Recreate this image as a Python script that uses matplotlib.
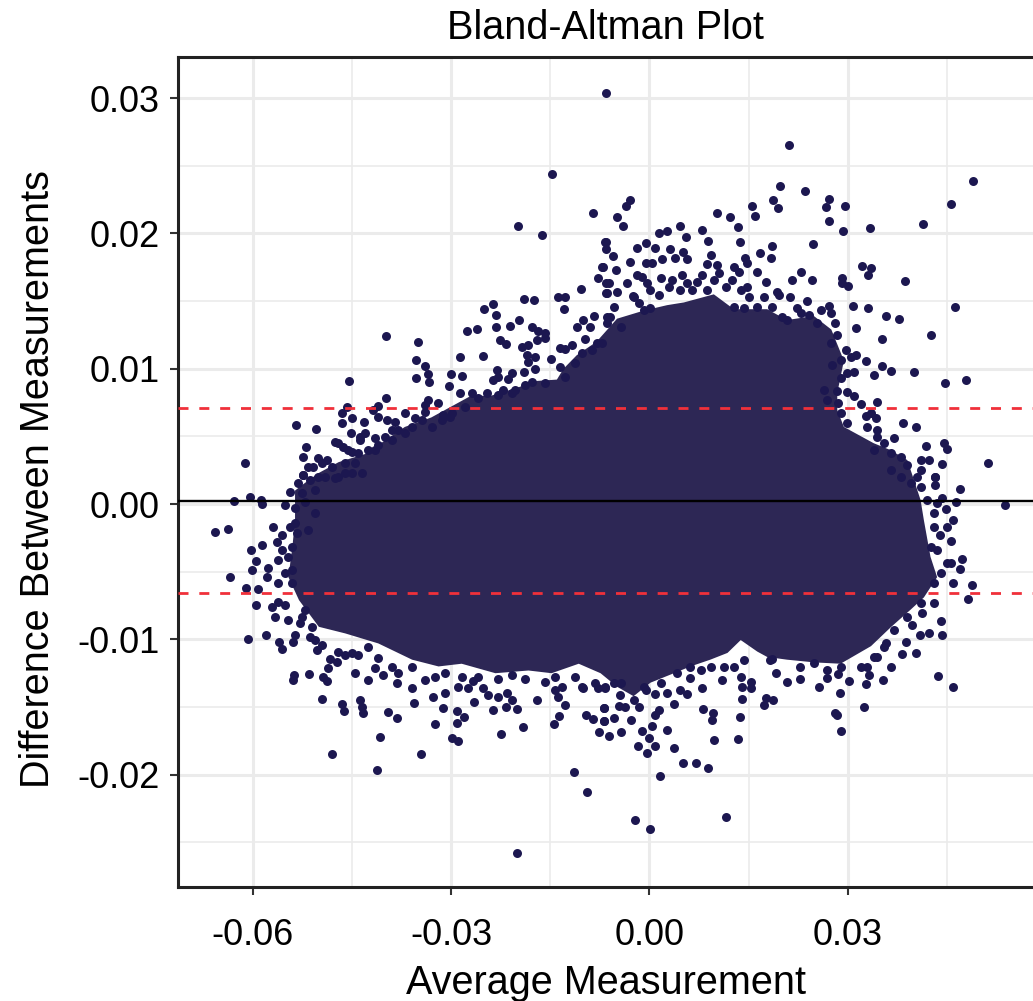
import matplotlib
matplotlib.use('Agg')
import matplotlib.pyplot as plt
import numpy as np

plt.rcParams['font.family'] = ['Liberation Sans', 'DejaVu Sans']

# all values, in thousandths
upper_left = [(-6.55,30.36),(-14.67,24.39),(-8.57,21.53),(-19.86,20.57),(-16.23,19.88),(-6.70,19.39),(-6.50,18.82),
  (-7.11,17.49),(-7.81,16.73),(-6.55,16.31),(-6.50,15.57),(-10.38,15.89),(-13.76,15.28),(-12.75,15.28),(-19.0,15.15),
  (-17.39,15.10),(-13.00,14.41),(-23.59,14.81),(-25.0,14.41),(-23.19,13.97),(-19.76,13.60),(-23.19,13.08),(-21.07,13.18),
  (-27.63,12.81),(-26.01,12.96),(-17.8,13.11),(-16.79,12.81),(-15.78,12.62),(-15.78,12.25),(-17.04,12.12),(-18.3,11.75),
  (-19.3,11.58),(-22.6,12.12),(-21.68,11.8),(-10.99,13.1),(-9.98,13.6),(-8.97,13.11),(-8.32,13.9),(-6.45,13.8),
  (-9.73,12.17),(-11.74,11.75),(-13.51,11.5),(-12.75,11.43),(-7.96,11.88),(-14.92,10.69),(-13.51,10.15),(-18.55,11.01),
  (-17.29,10.84),(-18.3,10.52),(-17.29,9.95),(-19.05,9.78),(-25.21,10.96),(-28.64,10.84),(-34.94,11.98),(-39.83,12.44),
  (-35.24,10.64),(-33.88,10.2),(-33.43,9.58),(-35.29,9.29),(-33.27,9.0),(-30.05,9.58),(-28.38,9.46),(-30.25,8.72),
  (-45.38,9.07),(-23.09,9.9),(-22.84,9.41),(-23.69,9.17),(-20.82,9.66),(-21.32,9.24),(-28.64,8.23),(-26.87,8.18),
  (-24.6,8.23),(-22.08,8.43),(-20.32,8.43),(-39.83,7.86),(-33.43,7.69),(-31.91,7.44),(-33.93,7.32),(-45.78,7.2),
  (-40.99,7.24),(-41.74,6.95),(-46.53,6.7),(-45.02,6.33),(-46.53,5.96),(-43.1,6.04),(-40.99,6.46),(-39.73,6.21),
  (-38.47,6.09),(-36.95,6.7),(-33.93,6.82),(-31.16,6.58),(-35.44,6.33),(-53.49,5.86),(-50.42,5.54),(-45.17,5.22),
  (-43.0,5.22),(-38.97,5.47),(-47.54,4.61),(-46.28,4.24),(-43.76,4.73),(-51.98,4.19),(-52.33,3.5),(-61.2,3.0),
  (-50.06,3.38),(-48.8,3.25),(-50.82,2.76),(-52.33,2.14),(-46.03,3.0),(-45.02,3.87)]

upper_right = [(21.03,26.51),(48.86,23.88),(19.67,23.51),(23.5,23.11),(45.63,22.15),(-2.87,22.47),(-3.48,22.03),
  (-4.89,21.19),(-3.98,20.57),(18.71,22.47),(19.51,21.88),(27.18,22.52),(26.77,21.98),(29.6,22.05),(15.53,22.05),
  (15.93,21.31),(10.14,21.49),(12.15,21.19),(27.18,20.89),(29.24,20.18),(33.38,20.38),(41.35,20.72),(13.41,20.45),
  (7.97,20.28),(4.59,20.52),(2.67,20.2),(1.41,20.06),(5.55,19.76),(8.78,19.42),(13.62,19.34),(-6.65,19.39),(18.56,19.1),
  (24.71,19.24),(-0.6,19.27),(-1.86,18.9),(0.91,18.95),(3.08,18.82),(5.09,18.65),(16.79,18.58),(9.23,18.41),(-5.49,18.33),
  (3.93,18.21),(1.92,18.09),(5.6,18.09),(14.52,18.16),(18.35,18.16),(-2.87,17.89),(-0.6,17.84),(0.41,17.84),(8.72,17.74),
  (32.07,17.59),(33.43,17.42),(33.08,16.93),(-7.01,17.49),(-5.04,17.3),(10.24,17.67),(14.78,17.79),(16.29,17.17),
  (22.84,17.12),(21.58,16.56),(24.61,16.56),(29.14,16.73),(30.0,16.14),(38.57,16.51),(29.14,16.31),(-1.86,16.93),
  (1.67,16.68),(4.94,16.93),(7.97,16.93),(12.76,17.54),(13.51,17.17),(-3.38,16.31),(-6.15,16.31),(17.55,16.43),
  (-6.4,15.57),(-4.89,15.7),(19.31,15.7),(21.23,15.3),(23.85,15.0),(-2.52,15.38),(27.13,14.64),(30.71,14.66),(33.08,14.51),
  (46.24,14.56),(35.8,13.9),(37.72,13.7),(28.03,13.4),(31.26,13.03),(42.61,12.52),(35.09,12.17),(32.67,10.6),(35.2,10.22),
  (36.46,9.83),(34.03,9.53),(40.03,9.78),(47.8,9.19),(44.72,8.92),(30.91,9.78),(31.16,11.01),(28.89,9.29),(28.39,8.35),
  (29.9,8.25),(30.91,7.98),(34.34,7.56),(31.92,7.37),(28.49,7.49),(38.37,5.96),(40.24,5.71),(32.67,6.5),(34.19,6.38),
  (34.44,5.47),(36.91,4.9),(41.75,4.31),(44.52,4.48),(44.93,4.07),(51.13,3.0),(44.27,2.96),(42.25,3.25),(43.16,2.02),
  (40.99,2.51)]

lower_left = [(-62.82,0.25),(-60.4,0.54),(-58.74,0.3),(-58.63,0.0),(-65.69,-2.09),(-63.78,-1.85),(-56.97,-1.68),(-60.25,-3.4),
  (-55.5,-2.29),(-58.63,-3.03),(-56.37,-2.78),(-59.54,-4.19),(-55.6,-3.4),(-56.11,-4.14),(-60.05,-4.88),(-57.63,-4.76),
  (-63.37,-5.37),(-57.88,-5.37),(-61.0,-6.21),(-59.14,-6.26),(-56.11,-5.86),(-59.54,-7.49),(-56.11,-7.22),(-57.12,-7.64),
  (-55.1,-7.47),(-56.62,-8.33),(-54.7,-8.57),(-52.84,-8.82),(-60.7,-10.0),(-57.93,-9.66),(-55.96,-10.18),(-55.51,-10.72),
  (-53.59,-9.68),(-53.85,-10.18),(-51.32,-9.81),(-50.32,-10.79),(-48.3,-11.48),(-47.29,-11.65),(-48.55,-12.15),
  (-53.74,-12.64),(-53.95,-13.01),(-51.53,-12.57),(-49.41,-12.76),(-48.8,-13.06),(-49.46,-14.39),(-46.53,-14.81),
  (-46.13,-15.3),(-43.76,-14.49),(-43.51,-14.98),(-43.26,-15.43),(-44.52,-12.47),(-42.5,-13.01),(-46.03,-11.16),
  (-44.01,-11.16),(-41.49,-12.15),(-39.58,-15.4),(-38.11,-15.84),(-40.74,-17.25),(-47.95,-18.5),(-41.14,-19.66),
  (-34.58,-18.48),(-35.95,-13.63),(-35.59,-14.69),(-38.21,-13.26),(-40.23,-12.64),(-32.67,-14.24),(-30.9,-13.99),
  (-31.16,-15.05),(-28.99,-13.55),(-29.14,-15.28),(-27.98,-15.72),(-32.37,-16.29),(-29.14,-16.21),(-29.9,-17.32),
  (-28.89,-17.52),(-26.52,-14.61),(-27.37,-13.63),(-26.62,-13.08),(-25.11,-13.63),(-24.35,-14.12),(-23.59,-15.23),
  (-22.94,-14.29),(-21.58,-13.95),(-21.68,-15.03),(-20.82,-14.49),(-20.01,-15.15),(-22.38,-16.98),(-19.06,-16.51),
  (-22.84,-12.96),(-20.82,-12.64),(-18.8,-12.96),(-17.04,-14.49),(-14.26,-13.75),(-13.76,-14.24),(-12.75,-14.86),
  (-13.26,-13.5),(-13.61,-15.65),(-14.37,-16.29),(-9.63,-15.6),(-8.57,-15.92),(-6.95,-15.1),(-6.95,-16.02),(-7.61,-16.83),
  (-11.39,-19.79),(-9.38,-21.29),(-19.96,-25.82),(-9.98,-13.63),(-7.71,-13.63),(-11.24,-12.76)]

lower_right = [(46.94,1.11),(43.16,2.02),(43.16,1.4),(44.27,0.42),(46.29,0.12),(53.7,-0.07),(44.77,-0.39),(45.93,-1.18),
  (43.92,-2.29),(45.63,-2.71),(47.3,-4.07),(46.94,-4.8),(45.03,-4.39),(45.93,-5.86),(48.71,-6.01),(48.2,-7.0),(43.01,-7.29),
  (41.25,-8.08),(44.12,-8.62),(44.22,-9.66),(42.25,-9.51),(39.73,-8.94),(40.89,-9.68),(38.72,-10.18),(40.24,-10.99),
  (38.22,-11.09),(35.7,-10.3),(34.44,-11.29),(36.46,-12.02),(35.35,-12.99),(43.61,-12.69),(45.83,-13.5),(32.93,-12.02),
  (33.18,-12.64),(32.67,-13.31),(30.15,-13.08),(28.49,-12.57),(28.79,-13.95),(32.47,-15.03),(28.03,-15.43),(28.39,-15.6),
  (28.89,-16.8),(25.62,-13.5),(26.88,-12.89),(22.69,-12.02),(22.69,-12.96),(20.83,-13.13),(19.11,-12.47),(18.56,-11.48),
  (15.28,-13.13),(15.38,-13.63),(14.02,-13.5),(14.02,-14.44),(13.77,-12.76),(13.67,-15.72),(13.41,-17.35),(17.3,-14.86),
  (18.71,-14.49),(17.55,-14.36),(9.58,-15.47),(9.48,-15.97),(8.07,-15.15),(9.73,-17.4),(7.97,-13.63),(10.99,-13.01),
  (5.6,-14.04),(4.69,-13.75),(6.2,-12.89),(3.68,-18.06),(5.09,-19.15),(7.11,-19.17),(8.88,-19.49),(1.57,-20.06),
  (-2.17,-23.38),(0.15,-24.0),(11.55,-23.14),(0.91,-17.89),(-0.4,-18.43),(-1.76,-17.86),(0.0,-17.32),(2.67,-16.71),
  (-1.11,-16.78),(0.41,-16.41),(-2.72,-15.97),(-4.28,-16.83),(-6.05,-17.13),(-5.29,-15.84),(-6.91,-16.02),(-6.91,-15.1),
  (-4.64,-14.93),(-3.63,-15.03),(-1.61,-15.03),(1.41,-15.23),(0.91,-15.6),(3.68,-14.74),(0.81,-14.04),(2.67,-13.95),
  (-0.6,-13.75),(-4.53,-14.12),(-5.29,-13.26),(-6.8,-13.63)]

# dots packed along the edge of the solid mass
fringe_top = [(-5.9,13.85),(-5.39,14.59),(-4.38,13.11),(-6.4,13.35),(-2.37,15.33),(-1.61,14.83),(-0.86,14.34),(0.15,14.46),
  (-1.11,16.8),(-0.35,16.31),(0.15,15.82),(1.41,15.45),(2.93,16.06),(3.43,16.56),(4.69,15.82),(5.7,16.31),(6.46,15.82),
  (7.21,16.43),(8.72,15.82),(9.73,16.56),(10.49,17.05),(11.5,16.06),(12.51,16.56),(13.77,15.82),(14.78,16.06),(12.76,14.59),
  (14.27,14.46),(16.29,14.59),(15.03,15.33),(17.3,15.33),(18.56,14.59),(19.56,15.45),(20.07,13.85),(20.83,13.6),(22.34,14.46),
  (22.84,14.09),(24.1,13.97),(25.87,14.34),(27.38,14.09),(25.36,13.35),(28.39,12.49),(29.65,11.38),(30.41,10.89),(28.89,10.64),
  (27.38,11.88),(27.63,10.27),(29.9,9.66),(26.37,8.43),(26.88,7.69),(28.89,6.7),(29.9,5.96),(33.43,6.7),(32.93,5.72),
  (34.44,4.98),(35.45,4.48),(33.93,3.99),(36.46,3.75),(37.97,3.5),(38.98,2.88),(41.0,3.25),(36.46,2.51),(37.97,2.02),(40.49,2.02),
  (-11.24,10.4),(-10.23,11.14),(-8.72,11.38),(-7.2,11.88),(-12.75,9.41),(-15.78,8.92),(-17.8,9.04),(-18.8,8.8),(-20.82,8.18),
  (-22.84,8.06),(-25.86,7.81),(-27.88,7.2),(-29.9,6.7),(-31.41,6.21),(-34.43,6.21),(-35.95,5.72),(-37.96,5.47),(-39.98,4.98),
  (-41.49,4.85),(-43.76,4.98),(-42.5,3.99),(-44.01,3.75),(-45.53,4.0),(-47.04,4.49),(-44.52,3.0),(-48.05,2.76),(-49.56,3.0),
  (-51.6,2.76),(-50.06,2.02),(-47.54,1.9),(-46.03,2.26),(-43.51,2.26),(-41.49,4.0),(-38.97,4.73),(-40.99,4.36),(-36.95,5.22),
  (-32.92,5.72),(-30.15,6.45)]

fringe_bottom = [(-52.33,2.14),(-54.35,0.91),(-53.09,1.53),(-51.32,1.77),(-49.05,2.02),(-47.04,2.02),(-45.02,2.27),(-52.6,0.79),
  (-50.57,1.03),(-55.11,-0.07),(-53.59,-0.32),(-52.08,0.17),(-50.57,-0.69),(-53.59,-1.43),(-54.35,-1.68),(-51.58,-1.92),
  (-53.34,-2.17),(-54.1,-3.15),(-54.6,-3.89),(-54.1,-4.88),(-55.1,-5.12),(-54.1,-5.86),(-52.08,-7.84),(-52.58,-8.33),
  (-51.07,-9.07),(-50.57,-10.05),(-49.56,-10.42),(-47.04,-10.92),(-45.02,-11.04),(-42.5,-10.55),(-41.0,-11.41),(-38.97,-12.02),
  (-37.96,-12.52),(-35.95,-12.02),(-33.93,-13.01),(-32.42,-12.76),(-30.9,-12.52),(-28.38,-12.76),(-25.86,-12.76),(-15.78,-13.13),
  (-14.26,-12.76),(-10.23,-13.5),(-8.21,-13.26),(-6.7,-13.5),(-4.38,-13.26),(-2.37,-14.49),(-0.85,-13.5),(1.67,-13.26),
  (4.19,-12.52),(6.2,-12.02),(7.72,-12.27),(9.23,-12.02),(11.25,-12.02),(12.76,-12.02),(14.27,-11.53),(18.3,-11.53),(24.86,-11.78),
  (26.88,-12.27),(28.89,-12.02),(31.92,-12.02),(33.93,-11.29),(35.45,-10.55),(36.96,-9.31),(38.98,-8.33),(40.99,-7.34),
  (43.01,-5.86),(44.02,-5.13),(45.53,-4.39),(43.51,-3.4),(45.03,-1.68),(43.01,-0.69),(41.99,0.3),(43.51,0.05),(40.99,1.28),
  (39.48,1.53),(43.01,-1.68),(42.5,-3.15)]

# outline of the part where the dots merge into a solid mass
dense_x = [-53.6,-52,-50,-47,-43,-40,-37,-33,-30,-27,-24,-20,-17,-14,-13,-11,-8,-4.9,-0.85,2.67,5.2,9.73,12.76,17.8,20.8,
  24.86,27.5,29.4,28.4,28.4,29.4,33.9,36.4,39,41,41.5,42.5,43.5,41.5,39.5,36.5,33.5,28.9,24.9,20.8,17.8,16.3,13.8,11.8,9.2,6.2,3.7,
  0.15,-2.4,-4.9,-7.4,-10.7,-14.8,-18.3,-23.3,-28.4,-31.9,-35.9,-41,-46,-50,-53,-54.6,-54,-53.6]
dense_y = [1.0,1.6,2.3,3.1,3.7,4.7,5.7,6.4,7.2,8.0,8.0,8.6,9.1,9.2,10.0,11.0,12.0,13.7,14.3,14.7,14.9,15.5,14.4,14.4,13.6,
  13.9,12.9,10.6,8.2,6.95,5.7,4.5,4.0,3.25,0.3,-1.2,-3.9,-5.4,-6.9,-7.8,-9.1,-10.5,-11.8,-11.7,-11.5,-11.3,-10.9,-10.05,
  -11.0,-11.5,-12.0,-12.5,-13.2,-14.2,-13.5,-12.5,-11.8,-12.5,-12.3,-12.5,-11.8,-12.0,-11.5,-10.3,-9.56,-9.07,-7.1,-5.4,
  -3.15,-1.2]

mean_diff = 0.00025
loa_upper = 0.0071
loa_lower = -0.0066

x_ticks = [-0.06, -0.03, 0.00, 0.03]
y_ticks = [-0.02, -0.01, 0.00, 0.01, 0.02, 0.03]
x_minor = [-0.045, -0.015, 0.015, 0.045]
y_minor = [-0.025, -0.015, -0.005, 0.005, 0.015, 0.025]

fig = plt.figure(figsize=(10.33, 10.01), dpi=100)
ax = fig.add_axes([178 / 1033, 114 / 1001, 855 / 1033, 830 / 1001])

points = np.array(upper_left + upper_right + lower_left + lower_right + fringe_top + fringe_bottom) / 1000
ax.fill(np.array(dense_x) / 1000, np.array(dense_y) / 1000, color='#2d2755', lw=0, zorder=2)
ax.scatter(points[:, 0], points[:, 1], s=42, color='#1c1750', lw=0, zorder=3)

ax.axhline(mean_diff, color='black', lw=1.7, zorder=4)
for level in [loa_upper, loa_lower]:
  ax.axhline(level, color='#f0303a', lw=2, dashes=(3.6, 3.9), zorder=4)

ax.set_xlim(-0.0713, 0.0580)
ax.set_ylim(-0.0283, 0.03304)

ax.set_xticks(x_ticks)
ax.set_xticklabels(['%.2f' % v for v in x_ticks])
ax.set_yticks(y_ticks)
ax.set_yticklabels(['%.2f' % v for v in y_ticks])
ax.set_xticks(x_minor, minor=True)
ax.set_yticks(y_minor, minor=True)
ax.tick_params(axis='both', which='major', labelsize=26, length=6, width=1.5, color='#333333')
ax.tick_params(axis='x', which='major', pad=16)
ax.tick_params(axis='y', which='major', pad=7)
ax.tick_params(axis='both', which='minor', length=0)
ax.grid(which='major', color='#ebebeb', lw=2.2)
ax.grid(which='minor', color='#ebebeb', lw=1.2)
ax.set_axisbelow(True)

for side in ['left', 'bottom', 'top']:
  ax.spines[side].set_linewidth(2.2)
  ax.spines[side].set_color('#222222')
ax.spines['right'].set_visible(False)

ax.set_title('Bland-Altman Plot', fontsize=28.5, pad=13)
ax.set_xlabel('Average Measurement', fontsize=28.5, labelpad=8)
ax.set_ylabel('Difference Between Measurements', fontsize=28.5)
ax.yaxis.set_label_coords(-0.142, 0.492)

plt.savefig('out.png', dpi=100)
